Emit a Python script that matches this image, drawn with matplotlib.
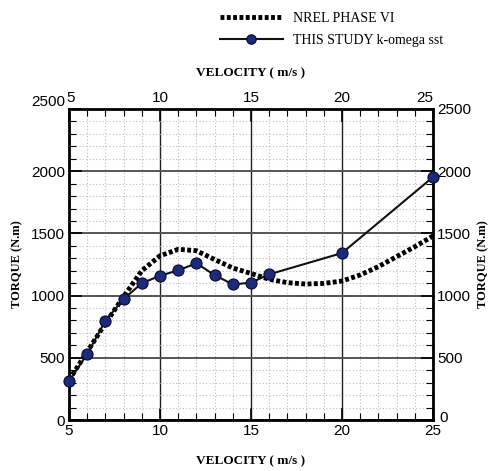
import matplotlib
matplotlib.use("Agg")
import matplotlib.pyplot as plt
import matplotlib.transforms as mtransforms
from matplotlib.ticker import MultipleLocator

# Data
nrel_v = [5, 6, 7, 8, 9, 10, 11, 12, 13, 14, 15, 16, 17, 18, 19, 20, 21, 22, 23, 24, 25]
nrel_t = [321, 549, 777, 991, 1200, 1320, 1372, 1361, 1290, 1222, 1178, 1131, 1104, 1093, 1098, 1117, 1166, 1233, 1313, 1393, 1479]
study_v = [5, 6, 7, 8, 9, 10, 11, 12, 13, 14, 15, 16, 20, 25]
study_t = [313, 530, 798, 973, 1099, 1160, 1203, 1260, 1165, 1090, 1104, 1171, 1342, 1953]
x_ticks = [5, 10, 15, 20, 25]
y_ticks = [0, 500, 1000, 1500, 2000, 2500]

serif = ["Liberation Serif", "DejaVu Serif"]
sans = ["Liberation Sans", "DejaVu Sans"]

L, R, B, T = 69 / 492, 433 / 492, 1 - 420 / 471, 1 - 109 / 471

fig = plt.figure(figsize=(4.92, 4.71), dpi=100)
ax = fig.add_axes([L, B, R - L, T - B])

ax.set_xlim(5, 25)
ax.set_ylim(0, 2500)
ax.set_xticks(x_ticks)
ax.set_yticks(y_ticks)
ax.xaxis.set_minor_locator(MultipleLocator(1))
ax.yaxis.set_minor_locator(MultipleLocator(100))

ax.grid(which="minor", color="#bbbbbb", linestyle=(0, (1, 2)), linewidth=0.8)
ax.grid(which="major", axis="x", color="#222222", linestyle="-", linewidth=1.0)
ax.grid(which="major", axis="y", color="#555555", linestyle="-", linewidth=1.4)
ax.set_axisbelow(True)

l1, = ax.plot(nrel_v, nrel_t, color="black", linewidth=3.5, linestyle=(0, (0.8, 0.5)),
              label="NREL PHASE VI", zorder=3)
l2, = ax.plot(study_v, study_t, color="#111111", linewidth=1.5, marker="o", markersize=8,
              markerfacecolor="#1c2a7a", markeredgecolor="#0a0a30", markeredgewidth=0.8,
              label="THIS STUDY k-omega sst", zorder=4, clip_on=False)

for s in ax.spines.values():
    s.set_linewidth(2.0)
    s.set_color("black")

ax.tick_params(which="both", direction="in", top=True, right=True,
               labeltop=True, labelright=True)
ax.tick_params(which="major", length=9, width=1.2, labelsize=11, pad=3)
ax.tick_params(which="minor", length=5, width=0.8)
fig.canvas.draw()
for lab in ax.get_xticklabels() + ax.get_yticklabels():
    lab.set_fontfamily(sans)


def shift(text, dx_px, dy_px):
    text.set_transform(text.get_transform() +
                       mtransforms.ScaledTranslation(dx_px / 100, dy_px / 100, fig.dpi_scale_trans))


# Tecplot-like placement of the edge labels
for tick in ax.yaxis.get_major_ticks():
    v = tick.get_loc()
    if v == 2500:
        shift(tick.label1, 0, 8)
    if v == 0:
        shift(tick.label2, 2, 4)
for tick in ax.xaxis.get_major_ticks():
    v = tick.get_loc()
    if v == 25:
        shift(tick.label2, -8, 0)
    if v == 5:
        shift(tick.label2, 2, 0)

fig.text(0.5 * (L + R), 1 - 461 / 471, "VELOCITY ( m/s )", fontfamily=serif,
         fontweight="bold", fontsize=9.5, ha="center", va="center")
fig.text(0.5 * (L + R), 1 - 73 / 471, "VELOCITY ( m/s )", fontfamily=serif,
         fontweight="bold", fontsize=9.5, ha="center", va="center")
fig.text(17 / 492, 0.5 * (B + T), "TORQUE (N.m)", fontfamily=serif,
         fontweight="bold", fontsize=9, ha="center", va="center", rotation=90)
fig.text(483 / 492, 0.5 * (B + T), "TORQUE (N.m)", fontfamily=serif,
         fontweight="bold", fontsize=9, ha="center", va="center", rotation=90)

leg = fig.legend(handles=[l1, l2], loc="upper left", bbox_to_anchor=(207 / 492, 1 + 1 / 471),
                 frameon=False, prop={"family": serif, "size": 10}, handlelength=4.6,
                 handletextpad=0.7, labelspacing=0.65, markerscale=0.85)

fig.savefig("out.png", dpi=100)
